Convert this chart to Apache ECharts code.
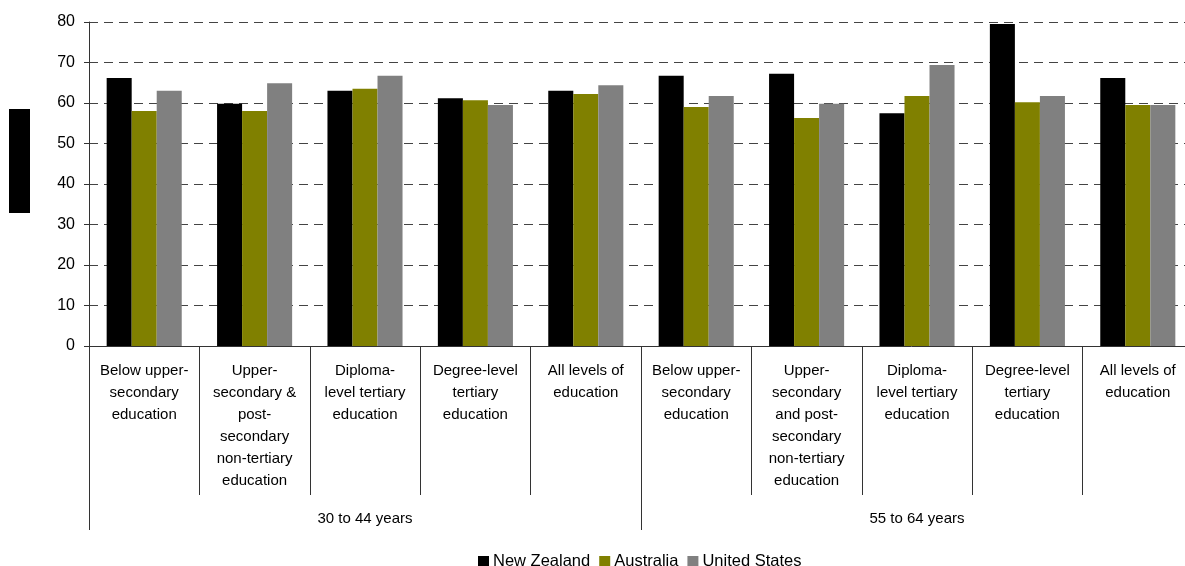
<!DOCTYPE html>
<html>
<head>
<meta charset="utf-8">
<script src="https://cdn.jsdelivr.net/npm/echarts@6/dist/echarts.min.js"></script>
<style>
  html, body {margin: 0; padding: 0; background: #fff;}
  #chart {width: 1185px; height: 566px;}
</style>
</head>
<body>
<div id="chart"></div>
<script>
const categories = [
  'Below upper-\nsecondary\neducation',
  'Upper-\nsecondary &\npost-\nsecondary\nnon-tertiary\neducation',
  'Diploma-\nlevel tertiary\neducation',
  'Degree-level\ntertiary\neducation',
  'All levels of\neducation',
  'Below upper-\nsecondary\neducation',
  'Upper-\nsecondary\nand post-\nsecondary\nnon-tertiary\neducation',
  'Diploma-\nlevel tertiary\neducation',
  'Degree-level\ntertiary\neducation',
  'All levels of\neducation'
];
const ageGroups = ['30 to 44 years', '55 to 64 years'];

const newZealand = [66.2, 59.8, 63.0, 61.2, 63.0, 66.7, 67.2, 57.5, 79.5, 66.2];
const australia = [58.0, 58.0, 63.5, 60.7, 62.2, 59.0, 56.3, 61.7, 60.2, 59.5];
const unitedStates = [63.0, 64.9, 66.7, 59.5, 64.4, 61.7, 59.8, 69.4, 61.7, 59.5];

const font = 'Liberation Sans, Arial, sans-serif';
const chart = echarts.init(document.getElementById('chart'));

const bar = (name, data, color) => ({
  name, type: 'bar', data,
  xAxisIndex: 0,
  barGap: 0,
  barCategoryGap: '32%',
  itemStyle: {color}
});

chart.setOption({
  animation: false,
  textStyle: {fontFamily: font},
  // plot runs a little past the right edge of the canvas, as in the original
  grid: {left: 89, top: 22, width: 1104, height: 324, outerBoundsMode: 'none', containLabel: false},
  legend: {
    top: 548,
    left: 473,
    itemWidth: 11,
    itemHeight: 11,
    itemGap: 9,
    icon: 'rect',
    textStyle: {fontSize: 16.5, color: '#000', padding: [0, 0, 0, -1]},
    data: ['New Zealand', 'Australia', 'United States']
  },
  xAxis: [{
    type: 'category',
    data: categories,
    position: 'bottom',
    axisLine: {show: true, lineStyle: {color: '#333', width: 1}},
    axisTick: {show: true, length: 149, interval: 0, lineStyle: {color: '#333', width: 1}},
    axisLabel: {
      interval: 0, margin: 14, fontSize: 15, lineHeight: 22,
      color: '#000', fontFamily: font
    }
  }, {
    type: 'category',
    data: ageGroups,
    position: 'bottom',
    axisLine: {show: false},
    axisTick: {show: true, length: 184, interval: 0, lineStyle: {color: '#333', width: 1}},
    axisLabel: {interval: 0, margin: 165, fontSize: 15, color: '#000', fontFamily: font}
  }],
  yAxis: {
    type: 'value',
    min: 0, max: 80, interval: 10,
    axisLine: {show: true, lineStyle: {color: '#333'}},
    axisTick: {show: true, length: 5, lineStyle: {color: '#333'}},
    axisLabel: {fontSize: 16, color: '#000', margin: 14, fontFamily: font},
    splitLine: {lineStyle: {color: '#444', type: [9, 6], width: 1}}
  },
  graphic: [{
    type: 'rect',
    left: 9, top: 109,
    shape: {width: 21, height: 104},
    style: {fill: '#000'}
  }],
  series: [
    bar('New Zealand', newZealand, '#000000'),
    bar('Australia', australia, '#808000'),
    bar('United States', unitedStates, '#808080')
  ]
});
</script>
</body>
</html>
